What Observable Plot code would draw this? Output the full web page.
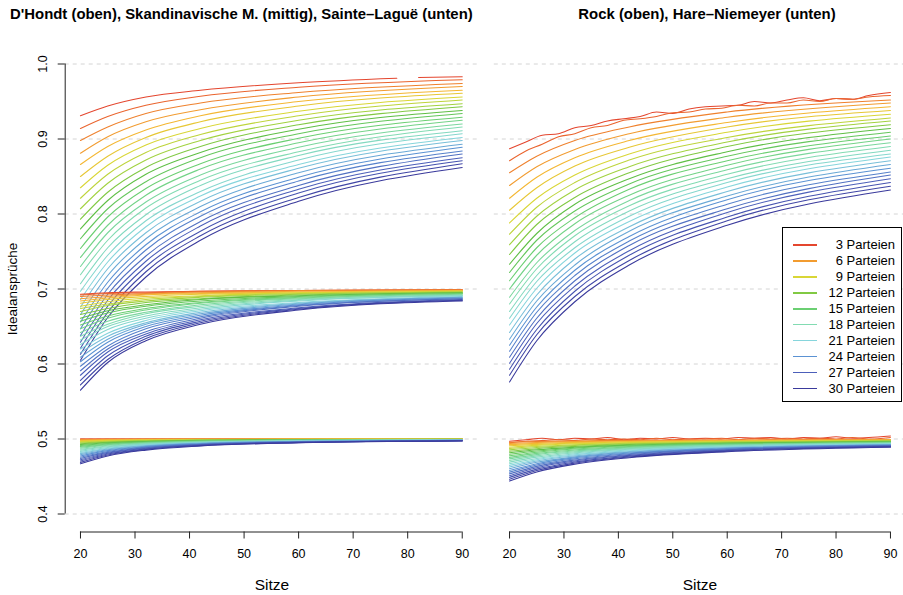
<!DOCTYPE html>
<html><head><meta charset="utf-8">
<script src="https://cdn.jsdelivr.net/npm/d3@7"></script>
<script src="https://cdn.jsdelivr.net/npm/@observablehq/plot@0.6"></script>
<style>
html,body{margin:0;padding:0;background:#fff;overflow:hidden}
#root{position:relative;width:903px;height:595px;overflow:hidden;font-family:"Liberation Sans",Arial,Helvetica,sans-serif;color:#000}
.abs{position:absolute;white-space:nowrap}
.title{font-weight:bold;font-size:14.9px;line-height:16px}
.lab{font-size:15.5px;line-height:16px}
#legend{position:absolute;left:782px;top:227px;width:120px;height:175px;box-sizing:border-box;border:1px solid #000;background:#fff}
.lrow{position:absolute;left:0;width:118px;height:16px;font-size:13px;line-height:16px}
.lrow .sw{position:absolute;left:10px;top:7px;width:24px;height:1.5px}
.lrow .tx{position:absolute;right:6px;top:0}
</style></head><body><div id="root"></div>
<script>
const seats = [20, 25, 32, 42, 60, 90];
const parties = [3,4,5,6,7,8,9,10,11,12,13,14,15,16,17,18,19,20,21,22,23,24,25,26,27,28,29,30];

const dhondt = [
[0.931,0.944,0.956,0.965,0.975,0.983],
[0.914,0.930,0.945,0.957,0.969,0.979],
[0.898,0.916,0.934,0.948,0.962,0.974],
[0.881,0.903,0.923,0.939,0.956,0.970],
[0.866,0.890,0.912,0.931,0.950,0.965],
[0.850,0.877,0.902,0.923,0.944,0.961],
[0.835,0.865,0.892,0.914,0.937,0.956],
[0.821,0.853,0.882,0.906,0.931,0.952],
[0.807,0.841,0.872,0.898,0.925,0.947],
[0.793,0.829,0.862,0.890,0.919,0.943],
[0.780,0.818,0.853,0.882,0.913,0.938],
[0.767,0.807,0.843,0.875,0.907,0.934],
[0.754,0.796,0.834,0.867,0.901,0.929],
[0.742,0.785,0.825,0.860,0.895,0.925],
[0.730,0.775,0.816,0.852,0.889,0.920],
[0.719,0.765,0.808,0.845,0.883,0.916],
[0.707,0.755,0.799,0.838,0.878,0.911],
[0.697,0.745,0.791,0.830,0.872,0.907],
[0.686,0.736,0.783,0.824,0.866,0.902],
[0.676,0.727,0.775,0.817,0.861,0.898],
[0.666,0.718,0.767,0.810,0.855,0.893],
[0.656,0.709,0.759,0.803,0.849,0.889],
[0.647,0.701,0.752,0.797,0.844,0.884],
[0.638,0.693,0.744,0.790,0.838,0.880],
[0.629,0.685,0.737,0.784,0.833,0.875],
[0.621,0.677,0.730,0.777,0.828,0.871],
[0.613,0.669,0.723,0.771,0.822,0.867],
[0.605,0.662,0.716,0.765,0.817,0.862]
];
// D'Hondt, 3 Parteien: the reference line has a gap near 80 seats
const dhondt3Seats = [20, 25, 32, 42, 60, 78, 80, 82, 90];
const dhondt3 = [0.931, 0.944, 0.956, 0.965, 0.975, 0.981, null, 0.982, 0.983];

const skandinavisch = [
[0.693,0.695,0.696,0.697,0.698,0.699],
[0.692,0.694,0.695,0.697,0.698,0.699],
[0.690,0.692,0.694,0.696,0.698,0.699],
[0.687,0.690,0.693,0.695,0.697,0.698],
[0.684,0.688,0.692,0.694,0.696,0.698],
[0.681,0.686,0.690,0.693,0.695,0.697],
[0.677,0.683,0.688,0.691,0.695,0.697],
[0.674,0.680,0.686,0.690,0.694,0.696],
[0.670,0.678,0.684,0.689,0.693,0.696],
[0.666,0.674,0.682,0.687,0.692,0.695],
[0.661,0.671,0.679,0.686,0.691,0.695],
[0.657,0.668,0.677,0.684,0.690,0.694],
[0.652,0.664,0.674,0.682,0.689,0.694],
[0.647,0.661,0.672,0.681,0.688,0.693],
[0.642,0.657,0.669,0.679,0.687,0.692],
[0.637,0.653,0.667,0.677,0.686,0.692],
[0.632,0.650,0.664,0.675,0.685,0.691],
[0.626,0.646,0.661,0.673,0.684,0.691],
[0.620,0.641,0.658,0.671,0.682,0.690],
[0.615,0.637,0.655,0.669,0.681,0.689],
[0.609,0.633,0.653,0.667,0.680,0.689],
[0.603,0.629,0.650,0.665,0.679,0.688],
[0.597,0.624,0.647,0.663,0.678,0.687],
[0.591,0.620,0.643,0.661,0.677,0.687],
[0.585,0.616,0.640,0.659,0.675,0.686],
[0.578,0.611,0.637,0.657,0.674,0.685],
[0.572,0.606,0.634,0.655,0.673,0.685],
[0.565,0.602,0.631,0.653,0.672,0.684]
];

const sainteLague = [
[0.5000,0.5000,0.5000,0.5000,0.5000,0.5000],
[0.4998,0.4998,0.4999,0.4999,0.5000,0.5000],
[0.4993,0.4995,0.4997,0.4998,0.4999,0.4999],
[0.4988,0.4992,0.4995,0.4997,0.4998,0.4999],
[0.4981,0.4987,0.4992,0.4995,0.4997,0.4999],
[0.4974,0.4982,0.4988,0.4993,0.4996,0.4998],
[0.4965,0.4976,0.4984,0.4990,0.4995,0.4997],
[0.4956,0.4970,0.4980,0.4988,0.4993,0.4997],
[0.4947,0.4964,0.4976,0.4985,0.4992,0.4996],
[0.4937,0.4957,0.4971,0.4982,0.4990,0.4995],
[0.4926,0.4949,0.4967,0.4979,0.4989,0.4994],
[0.4914,0.4941,0.4961,0.4976,0.4987,0.4993],
[0.4902,0.4933,0.4956,0.4972,0.4985,0.4992],
[0.4890,0.4925,0.4950,0.4969,0.4983,0.4991],
[0.4877,0.4916,0.4945,0.4965,0.4981,0.4990],
[0.4863,0.4906,0.4939,0.4961,0.4979,0.4989],
[0.4850,0.4897,0.4932,0.4957,0.4977,0.4988],
[0.4835,0.4887,0.4926,0.4953,0.4975,0.4987],
[0.4820,0.4877,0.4919,0.4949,0.4972,0.4986],
[0.4805,0.4867,0.4912,0.4945,0.4970,0.4985],
[0.4790,0.4856,0.4905,0.4940,0.4967,0.4984],
[0.4774,0.4845,0.4898,0.4936,0.4965,0.4982],
[0.4757,0.4834,0.4891,0.4931,0.4963,0.4981],
[0.4741,0.4822,0.4883,0.4926,0.4960,0.4980],
[0.4723,0.4811,0.4876,0.4922,0.4957,0.4979],
[0.4706,0.4799,0.4868,0.4917,0.4955,0.4977],
[0.4688,0.4787,0.4860,0.4912,0.4952,0.4976],
[0.4670,0.4774,0.4852,0.4907,0.4949,0.4974]
];

const rock = [
[0.888,0.905,0.920,0.934,0.949,0.962],
[0.871,0.890,0.909,0.925,0.942,0.957],
[0.855,0.877,0.898,0.916,0.936,0.952],
[0.838,0.863,0.886,0.907,0.929,0.948],
[0.821,0.849,0.875,0.898,0.922,0.943],
[0.805,0.835,0.864,0.889,0.916,0.938],
[0.788,0.821,0.852,0.880,0.909,0.933],
[0.773,0.809,0.842,0.872,0.902,0.928],
[0.759,0.797,0.832,0.863,0.896,0.924],
[0.746,0.786,0.822,0.855,0.890,0.919],
[0.733,0.774,0.813,0.847,0.883,0.914],
[0.722,0.765,0.804,0.840,0.877,0.909],
[0.711,0.755,0.795,0.833,0.871,0.904],
[0.700,0.745,0.787,0.825,0.865,0.900],
[0.689,0.735,0.778,0.818,0.859,0.895],
[0.680,0.727,0.771,0.811,0.853,0.890],
[0.670,0.718,0.763,0.804,0.847,0.885],
[0.661,0.710,0.755,0.797,0.842,0.880],
[0.652,0.701,0.748,0.790,0.836,0.876],
[0.642,0.692,0.740,0.783,0.830,0.871],
[0.633,0.684,0.732,0.777,0.824,0.866],
[0.625,0.676,0.725,0.770,0.819,0.861],
[0.617,0.669,0.718,0.764,0.813,0.856],
[0.609,0.661,0.711,0.758,0.807,0.852],
[0.601,0.654,0.704,0.751,0.802,0.847],
[0.593,0.646,0.697,0.745,0.796,0.842],
[0.585,0.639,0.690,0.738,0.791,0.837],
[0.576,0.631,0.683,0.732,0.785,0.832]
];

const hareNiemeyer = [
[0.4980,0.5000,0.4990,0.5000,0.5010,0.5030],
[0.4970,0.4990,0.4990,0.5000,0.5000,0.5010],
[0.4956,0.4966,0.4974,0.4981,0.4987,0.4992],
[0.4941,0.4954,0.4965,0.4974,0.4982,0.4989],
[0.4925,0.4942,0.4955,0.4967,0.4977,0.4986],
[0.4909,0.4928,0.4945,0.4959,0.4972,0.4982],
[0.4891,0.4915,0.4935,0.4952,0.4967,0.4979],
[0.4873,0.4900,0.4924,0.4943,0.4962,0.4975],
[0.4855,0.4886,0.4913,0.4935,0.4956,0.4972],
[0.4836,0.4871,0.4901,0.4927,0.4950,0.4968],
[0.4816,0.4856,0.4890,0.4918,0.4944,0.4964],
[0.4796,0.4840,0.4878,0.4909,0.4938,0.4960],
[0.4776,0.4824,0.4866,0.4900,0.4932,0.4957],
[0.4755,0.4808,0.4853,0.4891,0.4926,0.4953],
[0.4735,0.4792,0.4841,0.4882,0.4920,0.4949],
[0.4713,0.4775,0.4828,0.4872,0.4913,0.4944],
[0.4692,0.4758,0.4815,0.4863,0.4907,0.4940],
[0.4670,0.4741,0.4802,0.4853,0.4900,0.4936],
[0.4648,0.4724,0.4789,0.4843,0.4894,0.4932],
[0.4626,0.4707,0.4776,0.4833,0.4887,0.4927],
[0.4603,0.4689,0.4762,0.4823,0.4880,0.4923],
[0.4581,0.4671,0.4749,0.4813,0.4873,0.4919],
[0.4558,0.4653,0.4735,0.4803,0.4866,0.4914],
[0.4535,0.4635,0.4721,0.4793,0.4859,0.4910],
[0.4511,0.4617,0.4707,0.4782,0.4852,0.4905],
[0.4488,0.4598,0.4693,0.4772,0.4845,0.4901],
[0.4464,0.4580,0.4679,0.4761,0.4838,0.4896],
[0.4440,0.4561,0.4665,0.4751,0.4831,0.4891]
];

// the 3- and 4-party lines of Rock and Hare–Niemeyer are visibly jagged: read at finer steps
const detailSeats = [20,23,26,29,32,35,38,41,44,47,50,53,56,59,62,65,68,71,74,77,80,83,86,90];
const rock3 = [0.887,0.896,0.905,0.907,0.915,0.918,0.924,0.927,0.930,0.936,0.934,0.940,0.943,0.944,0.945,0.950,0.948,0.952,0.955,0.951,0.954,0.953,0.958,0.962];
const rock4 = [0.871,0.884,0.893,0.903,0.907,0.915,0.918,0.925,0.927,0.930,0.935,0.936,0.940,0.941,0.945,0.944,0.948,0.948,0.952,0.950,0.954,0.953,0.956,0.958];
const hn3 = [0.497,0.499,0.501,0.499,0.501,0.500,0.502,0.499,0.501,0.500,0.502,0.500,0.501,0.500,0.502,0.501,0.502,0.500,0.502,0.501,0.503,0.501,0.502,0.504];
const hn4 = [0.495,0.497,0.498,0.499,0.498,0.500,0.499,0.500,0.499,0.501,0.499,0.500,0.500,0.501,0.499,0.501,0.500,0.501,0.500,0.501,0.500,0.502,0.500,0.502];

const xTicks = [20,30,40,50,60,70,80,90];
const yTicks = [0.4,0.5,0.6,0.7,0.8,0.9,1.0];
const legendParties = [3,6,9,12,15,18,21,24,27,30];
const colorStops = [3,5,7,9,11,13,15,18,21,24,27,30];
const colorValues = ["#e4462e","#ef812d","#f4b733","#d9d636","#a2d240","#5fbf45","#6bcf72","#82dbb2","#86d5dc","#5b92d3","#4c5fba","#3a3a9c"];
const leftTitle = "D'Hondt (oben), Skandinavische M. (mittig), Sainte–Laguë (unten)";
const rightTitle = "Rock (oben), Hare–Niemeyer (unten)";
const yLabel = "Idealansprüche";
const xLabel = "Sitze";

const xDomain = [17.2, 92.8];
const yDomain = [0.376, 1.024];
const colorOf = d3.scaleLinear().domain(colorStops).range(colorValues).interpolate(d3.interpolateRgb);

function rows(matrix, method, overrides = {}) {
  const out = [];
  matrix.forEach((r, i) => {
    const p = parties[i];
    if (overrides[p]) {
      const [xs, vs] = overrides[p];
      vs.forEach((v, j) => out.push({method, parties: p, seats: xs[j], value: v}));
    } else {
      r.forEach((v, j) => out.push({method, parties: p, seats: seats[j], value: v}));
    }
  });
  return out;
}
const leftData = [
  ...rows(dhondt, "dhondt", {3: [dhondt3Seats, dhondt3]}),
  ...rows(skandinavisch, "skand"),
  ...rows(sainteLague, "sl")
];
const rightData = [
  ...rows(rock, "rock", {3: [detailSeats, rock3], 4: [detailSeats, rock4]}),
  ...rows(hareNiemeyer, "hn", {3: [detailSeats, hn3], 4: [detailSeats, hn4]})
];

const axisColor = "#222";
const font = '"Liberation Sans", Arial, Helvetica, sans-serif';

function panel(data, {width, marginLeft, marginRight, yAxis}) {
  const marks = [
    Plot.ruleY(yTicks, {stroke: "#d4d4d4", strokeDasharray: "4,4", strokeWidth: 1}),
    Plot.line(data, {x: "seats", y: "value", z: d => d.method + d.parties, stroke: d => colorOf(d.parties), strokeWidth: 1.1, curve: "monotone-x"}),
    Plot.ruleY([yDomain[0]], {x1: xTicks[0], x2: xTicks[xTicks.length - 1], stroke: axisColor}),
    Plot.axisX(xTicks, {anchor: "bottom", tickSize: 7, tickPadding: 10, fontSize: 12.5, stroke: axisColor, label: null, tickFormat: d => String(d)})
  ];
  if (yAxis) {
    marks.push(
      Plot.ruleX([xDomain[0]], {y1: yTicks[0], y2: yTicks[yTicks.length - 1], stroke: axisColor}),
      Plot.axisY(yTicks, {anchor: "left", tickSize: 7, stroke: axisColor, label: null, tickFormat: () => ""}),
      Plot.text(yTicks, {x: xDomain[0], y: d => d, text: d => d.toFixed(1), rotate: -90, dx: -21.7, fontSize: 12.5, textAnchor: "middle", lineAnchor: "middle", fill: "#000"})
    );
  }
  return Plot.plot({
    width, height: 595, marginLeft, marginRight, marginTop: 45.5, marginBottom: 63.5,
    x: {domain: xDomain, label: null},
    y: {domain: yDomain, label: null, axis: yAxis ? undefined : null},
    style: {fontFamily: font, fontSize: "12px", background: "transparent", overflow: "visible", color: "#000"},
    marks
  });
}

const root = document.getElementById("root");
const left = panel(leftData, {width: 480, marginLeft: 64.7, marginRight: 3, yAxis: true});
left.style.position = "absolute"; left.style.left = "0px"; left.style.top = "0px";
root.appendChild(left);
const right = panel(rightData, {width: 426, marginLeft: 13.8, marginRight: 0.8, yAxis: false});
right.style.position = "absolute"; right.style.left = "480px"; right.style.top = "0px";
root.appendChild(right);

function addDiv(cls, text, style) {
  const d = document.createElement("div");
  d.className = "abs " + cls;
  d.textContent = text;
  Object.assign(d.style, style);
  root.appendChild(d);
  return d;
}
addDiv("title", leftTitle, {left: "10px", top: "6px"});
addDiv("title", rightTitle, {left: "707px", top: "6px", transform: "translateX(-50%)"});
addDiv("lab", xLabel, {left: "272px", top: "577px", transform: "translateX(-50%)"});
addDiv("lab", xLabel, {left: "700px", top: "577px", transform: "translateX(-50%)"});
addDiv("", yLabel, {left: "13px", top: "289px", fontSize: "13.5px", lineHeight: "14px", transform: "translate(-50%,-50%) rotate(-90deg)"});

const legend = document.createElement("div");
legend.id = "legend";
legendParties.forEach((p, i) => {
  const r = document.createElement("div");
  r.className = "lrow";
  r.style.top = (9.3 + 15.93 * i) + "px";
  const sw = document.createElement("div"); sw.className = "sw"; sw.style.backgroundColor = colorOf(p);
  const tx = document.createElement("span"); tx.className = "tx"; tx.textContent = p + " Parteien";
  r.appendChild(sw); r.appendChild(tx);
  legend.appendChild(r);
});
root.appendChild(legend);
</script>
</body></html>
